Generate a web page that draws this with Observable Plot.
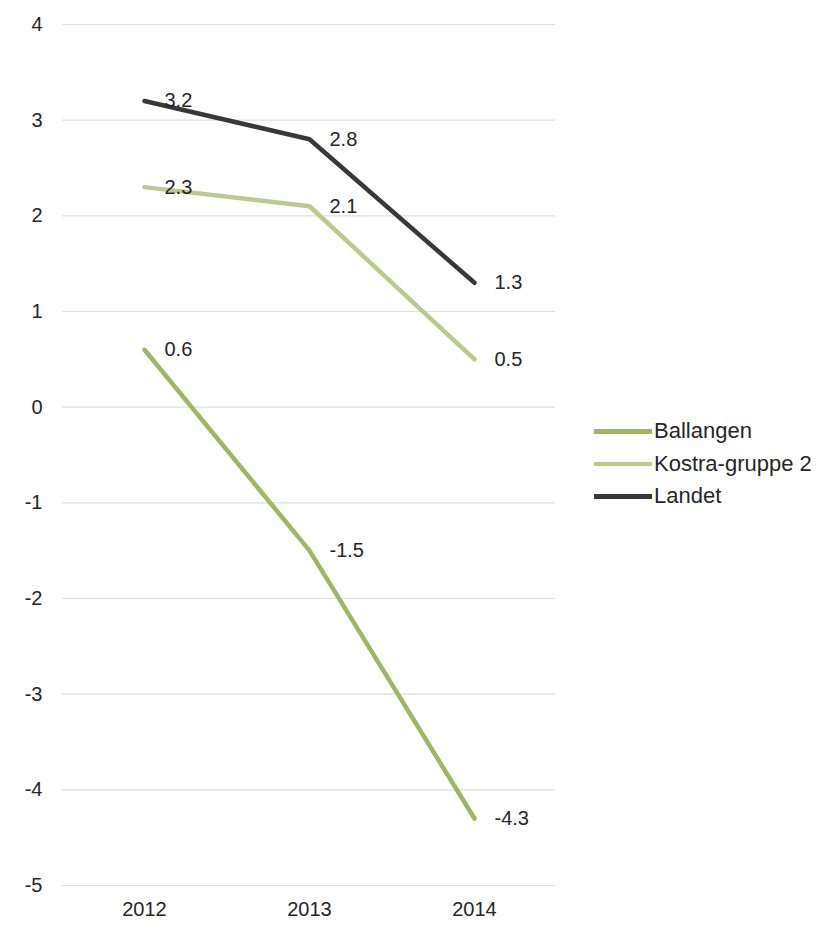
<!DOCTYPE html>
<html>
<head>
<meta charset="utf-8">
<script src="https://cdn.jsdelivr.net/npm/d3@7"></script>
<script src="https://cdn.jsdelivr.net/npm/@observablehq/plot@0.6"></script>
<style>
  html, body { margin: 0; padding: 0; background: #fff; }
  #wrap { position: relative; width: 831px; height: 925px; font-family: "Liberation Sans", Arial, sans-serif; }
  #legend { position: absolute; left: 594px; top: 415px; color: #262626; font-size: 22px; }
  .item { display: flex; align-items: center; height: 32.5px; }
  .swatch { width: 58px; height: 4.5px; margin-right: 2px; }
</style>
</head>
<body>
<div id="wrap"><div id="chart"></div><div id="legend"></div></div>
<script>
const years = ["2012", "2013", "2014"];
const seriesNames = ["Ballangen", "Kostra-gruppe 2", "Landet"];
const ballangen = [0.6, -1.5, -4.3];
const kostra = [2.3, 2.1, 0.5];
const landet = [3.2, 2.8, 1.3];
const colors = ["#9db862", "#b9cb8c", "#383838"];
const yTicks = [-5, -4, -3, -2, -1, 0, 1, 2, 3, 4];

const valuesBySeries = [ballangen, kostra, landet];
const data = seriesNames.flatMap((s, i) => years.map((y, j) => ({series: s, year: y, value: valuesBySeries[i][j]})));

const chart = Plot.plot({
  width: 831,
  height: 925,
  marginLeft: 62,
  marginRight: 276,
  marginTop: 24,
  marginBottom: 40,
  style: {fontFamily: "Liberation Sans, Arial, sans-serif", fontSize: "20px", color: "#262626", background: "#fff"},
  x: {type: "point", domain: years, padding: 0.49, label: null},
  y: {domain: [-5, 4], ticks: yTicks, label: null},
  color: {domain: seriesNames, range: colors},
  marks: [
    Plot.gridY(yTicks, {stroke: "#dedede", strokeOpacity: 1, strokeWidth: 1.2}),
    Plot.axisY(yTicks, {tickSize: 0, tickPadding: 20, fontSize: 20, fill: "#262626", textAnchor: "end", tickFormat: d => String(d)}),
    Plot.axisX(years, {tickSize: 0, tickPadding: 16, fontSize: 20, fill: "#262626"}),
    Plot.line(data, {x: "year", y: "value", z: "series", stroke: "series", strokeWidth: 4.5, strokeLinejoin: "round", strokeLinecap: "round"}),
    Plot.text(data, {x: "year", y: "value", text: d => d.value.toFixed(1), textAnchor: "start", dx: 20, fontSize: 20, fill: "#262626"})
  ]
});
document.getElementById("chart").appendChild(chart);

const legend = document.getElementById("legend");
seriesNames.forEach((s, i) => {
  const item = document.createElement("div");
  item.className = "item";
  const sw = document.createElement("span");
  sw.className = "swatch";
  sw.style.background = colors[i];
  const t = document.createElement("span");
  t.textContent = s;
  item.appendChild(sw);
  item.appendChild(t);
  legend.appendChild(item);
});
</script>
</body>
</html>
